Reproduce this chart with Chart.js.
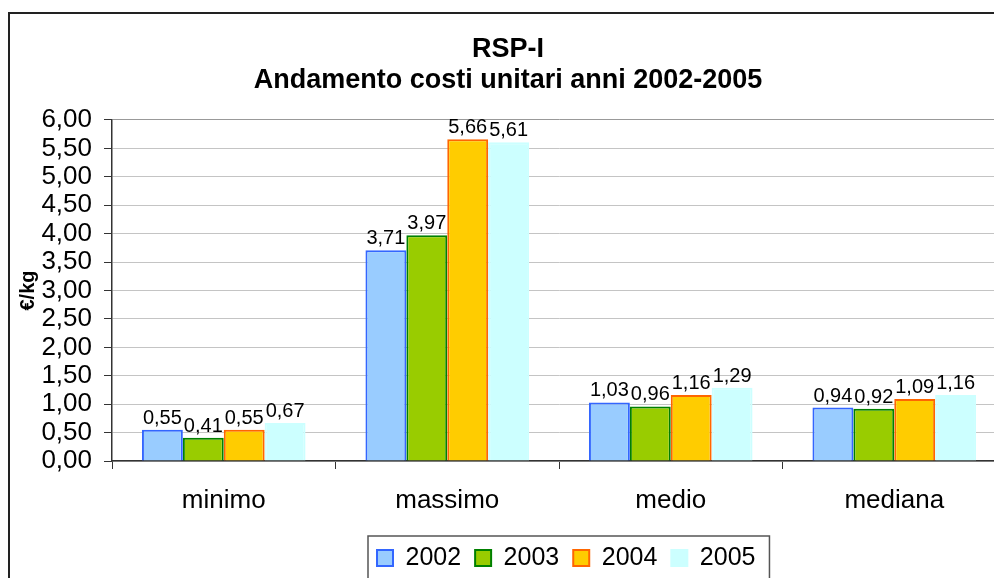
<!DOCTYPE html>
<html>
<head>
<meta charset="utf-8">
<title>RSP-I</title>
<script src="https://cdn.jsdelivr.net/npm/chart.js@4/dist/chart.umd.min.js"></script>
<style>
  html, body { margin: 0; padding: 0; background: #fff; overflow: hidden; }
  #frame {
    position: absolute;
    left: 8px;
    top: 12px;
    border: 2px solid #222;
    width: 1030px;
    height: 600px;
  }
  #myChart { display: block; }
</style>
</head>
<body>
<div id="frame">
  <canvas id="myChart" width="1030" height="600"></canvas>
</div>
<script>
const titleLines = ["RSP-I", "Andamento costi unitari anni 2002-2005"];
const categories = ["minimo", "massimo", "medio", "mediana"];
const years = ["2002", "2003", "2004", "2005"];

const values2002 = [0.55, 3.71, 1.03, 0.94];
const values2003 = [0.41, 3.97, 0.96, 0.92];
const values2004 = [0.55, 5.66, 1.16, 1.09];
const values2005 = [0.67, 5.61, 1.29, 1.16];

const yTickLabels = ["0,00", "0,50", "1,00", "1,50", "2,00", "2,50", "3,00",
  "3,50", "4,00", "4,50", "5,00", "5,50", "6,00"];
const yTitle = "€/kg";

const fillColors = ["#99CCFF", "#99CC00", "#FFCC00", "#CCFFFF"];
const lineColors = ["#3366FF", "#008000", "#FF6600", "#CCFFFF"];

const fontFamily = '"Liberation Sans", Arial, sans-serif';
Chart.defaults.font.family = fontFamily;
Chart.defaults.color = "#000";

// valori con la virgola, come nel grafico originale
function comma(v) {
  return v.toFixed(2).replace(".", ",");
}

// etichette sopra le barre
const dataLabels = {
  id: "dataLabels",
  afterDatasetsDraw(chart) {
    const ctx = chart.ctx;
    ctx.save();
    ctx.font = "20px " + fontFamily;
    ctx.fillStyle = "#000";
    ctx.textAlign = "center";
    ctx.textBaseline = "alphabetic";
    chart.data.datasets.forEach((ds, i) => {
      chart.getDatasetMeta(i).data.forEach((bar, j) => {
        ctx.fillText(comma(ds.data[j]), bar.x, bar.y - 6);
      });
    });
    ctx.restore();
  },
};

// sposta la legenda e le disegna il riquadro
const legendBox = {
  id: "legendBox",
  afterLayout(chart) {
    const lg = chart.legend;
    const dx = 353 - lg.left;
    const dy = 517.5 - lg.top;
    lg.left += dx;
    lg.right += dx;
    lg.top += dy;
    lg.bottom += dy;
  },
  afterDraw(chart) {
    const lg = chart.legend;
    const boxes = lg.legendHitBoxes;
    if (!boxes || !boxes.length) return;
    const first = boxes[0];
    const last = boxes[boxes.length - 1];
    const x = first.left - 9;
    const y = lg.top + 4.5;
    const w = last.left + last.width + 14 - x;
    const ctx = chart.ctx;
    ctx.save();
    ctx.strokeStyle = "#555";
    ctx.lineWidth = 1.5;
    ctx.strokeRect(x, y, w, chart.height + 20 - y);
    ctx.restore();
  },
};

const series = [values2002, values2003, values2004, values2005];

const myChart = new Chart("myChart", {
  type: "bar",
  data: {
    labels: categories,
    datasets: years.map((year, i) => ({
      label: year,
      data: series[i],
      backgroundColor: fillColors[i],
      borderColor: lineColors[i],
      borderWidth: 2,
      categoryPercentage: 0.732,
      barPercentage: 1.0,
    })),
  },
  options: {
    responsive: false,
    animation: false,
    layout: {
      padding: { left: 0, right: 34, top: 0, bottom: 32.8 },
    },
    plugins: {
      title: {
        display: true,
        text: titleLines,
        color: "#000",
        font: { size: 27, weight: "bold", lineHeight: 1.148 },
        padding: { top: 20.5, bottom: 23.5 },
      },
      legend: {
        position: "bottom",
        align: "start",
        labels: {
          boxWidth: 16,
          boxHeight: 16,
          padding: 14,
          color: "#000",
          font: { size: 25 },
        },
      },
      tooltip: { enabled: false },
    },
    scales: {
      x: {
        offset: true,
        grid: {
          offset: true,
          drawOnChartArea: false,
          tickLength: 8,
          color: "#333",
          tickColor: "#333",
        },
        border: { color: "#333", width: 1.5 },
        ticks: {
          padding: 16,
          color: "#000",
          font: { size: 26 },
        },
      },
      y: {
        min: 0,
        max: 6,
        afterFit: (scale) => {
          scale.width = 102;
        },
        ticks: {
          stepSize: 0.5,
          autoSkip: false,
          padding: 12,
          color: "#000",
          font: { size: 26 },
          callback: (value, index) => yTickLabels[index],
        },
        grid: {
          color: (c) => (c.tick && c.tick.value === 6 ? "#999" : "#c4c4c4"),
          tickLength: 8,
          tickColor: "#333",
        },
        border: { color: "#333", width: 1.5 },
        title: {
          display: true,
          text: yTitle,
          color: "#000",
          font: { size: 20, weight: "bold" },
          padding: { top: 6, bottom: 3 },
        },
      },
    },
  },
  plugins: [dataLabels, legendBox],
});
</script>
</body>
</html>
